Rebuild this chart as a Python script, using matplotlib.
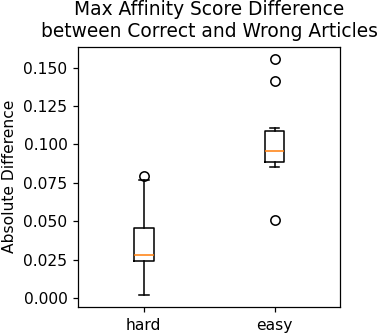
import matplotlib
matplotlib.use('Agg')
import matplotlib.pyplot as plt
from matplotlib.ticker import MultipleLocator

# Diferença absoluta por grupo
labels = ['hard', 'easy']
hard = [0.002, 0.015, 0.0242, 0.026, 0.0281, 0.035, 0.0459, 0.0771, 0.0795]
easy = [0.0509, 0.0851, 0.087, 0.0886, 0.090, 0.093, 0.0956, 0.100,
        0.106, 0.109, 0.1108, 0.1413, 0.156]

dpi = 112
fig = plt.figure(figsize=(382 / dpi, 334 / dpi), dpi=dpi)
ax = fig.add_axes([0.205, 0.0817, 0.685, 0.7785])
ax.boxplot([hard, easy], tick_labels=labels)
ax.yaxis.set_major_locator(MultipleLocator(0.025))
ax.set_title('Max Affinity Score Difference\nbetween Correct and Wrong Articles')
ax.set_ylabel('Absolute Difference')

fig.savefig('out.png', dpi=dpi)
